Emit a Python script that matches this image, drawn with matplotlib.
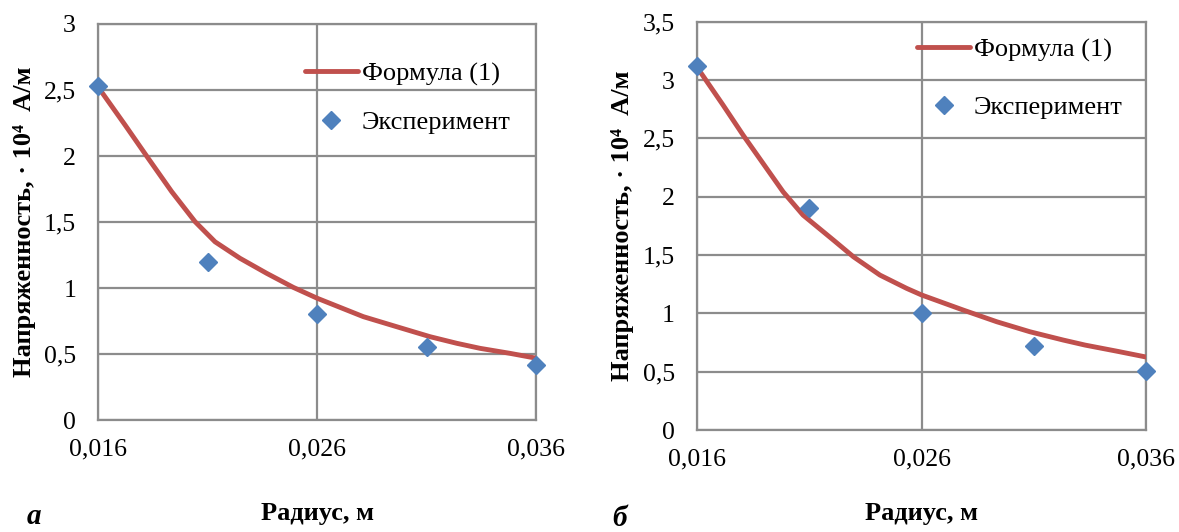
import matplotlib
matplotlib.use('Agg')
from matplotlib import pyplot as plt
from matplotlib.ticker import FuncFormatter, MultipleLocator

# экспериментальные точки
x_exp = [0.016, 0.021, 0.026, 0.031, 0.036]
y_exp_a = [2.53, 1.20, 0.80, 0.55, 0.42]
y_exp_b = [3.12, 1.90, 1.00, 0.72, 0.51]

# кривая по формуле (1)
x_f_a = [0.016, 0.01722, 0.01828, 0.01935, 0.02042, 0.02133, 0.02247, 0.02369,
         0.0249, 0.026, 0.0281, 0.02962, 0.03115, 0.03237, 0.03343, 0.0348, 0.036]
y_f_a = [2.52, 2.235, 1.982, 1.730, 1.502, 1.350, 1.225, 1.111,
         1.005, 0.922, 0.783, 0.707, 0.631, 0.581, 0.543, 0.505, 0.468]
x_f_b = [0.016, 0.01716, 0.01805, 0.01894, 0.01983, 0.02072, 0.02207, 0.02296,
         0.02414, 0.02533, 0.026, 0.02785, 0.02934, 0.03082, 0.0323, 0.03327,
         0.0347, 0.036]
y_f_b = [3.11, 2.785, 2.528, 2.285, 2.042, 1.842, 1.628, 1.485,
         1.328, 1.214, 1.157, 1.028, 0.928, 0.842, 0.771, 0.728,
         0.675, 0.625]

xticks = [0.016, 0.026, 0.036]

plt.rcParams['font.family'] = ['Liberation Serif', 'DejaVu Serif']

fig = plt.figure(figsize=(11.79, 5.32), dpi=100)
ax_a = fig.add_axes([0.0834, 0.2105, 0.3715, 0.7444])
ax_b = fig.add_axes([0.5912, 0.1917, 0.3812, 0.7675])

comma = FuncFormatter(lambda v, p: ('%g' % round(v, 4)).replace('.', ','))

def setup(ax, x_f, y_f, y_exp, ymax, leg_pos, leg_space, xpad):
    ax.plot(x_f, y_f, color='#C0504D', lw=3.5, label='Формула (1)', zorder=3,
            solid_capstyle='round', solid_joinstyle='round')
    ax.plot(x_exp, y_exp, 'D', color='#4F81BD', ms=9.5, label='Эксперимент',
            zorder=4, clip_on=False)
    ax.set_xlim(0.016, 0.036)
    ax.set_ylim(0, ymax)
    ax.set_xticks(xticks)
    ax.yaxis.set_major_locator(MultipleLocator(0.5))
    ax.xaxis.set_major_formatter(comma)
    ax.yaxis.set_major_formatter(comma)
    ax.grid(True, color='#8c8c8c', lw=1.6)
    ax.set_axisbelow(True)
    for s in ax.spines.values():
        s.set_color('#8c8c8c')
        s.set_linewidth(1.6)
    ax.tick_params(axis='y', length=0, labelsize=18.5, pad=16)
    ax.tick_params(axis='x', length=0, labelsize=18.5, pad=13)
    ax.set_xlabel('Радиус, м', fontsize=19, fontweight='bold', labelpad=xpad)
    ax.set_ylabel('Напряженность, · 10⁴  А/м', fontsize=19, fontweight='bold', labelpad=6)
    ax.legend(loc='upper left', bbox_to_anchor=leg_pos, frameon=False, fontsize=19,
              handlelength=2.0, handletextpad=0.15, labelspacing=leg_space,
              borderpad=0, borderaxespad=0)

setup(ax_a, x_f_a, y_f_a, y_exp_a, 3, (0.472, 0.905), 0.95, 30)
setup(ax_b, x_f_b, y_f_b, y_exp_b, 3.5, (0.49, 0.96), 1.28, 23)

fig.text(0.023, 0.015, 'а', fontsize=21, fontweight='bold', style='italic')
fig.text(0.519, 0.012, 'б', fontsize=21, fontweight='bold', style='italic')

fig.savefig('out.png', dpi=100)
